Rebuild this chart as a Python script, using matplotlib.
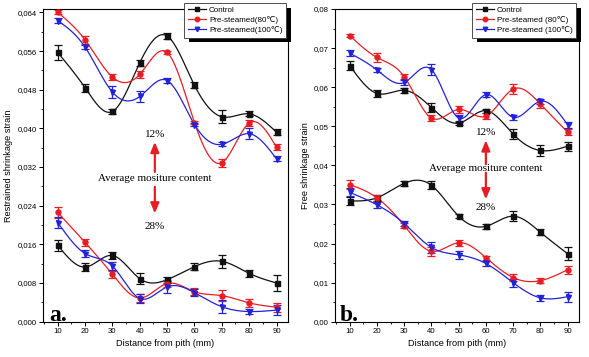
import numpy as np
import matplotlib
matplotlib.use("Agg")
import matplotlib.pyplot as plt
from matplotlib.patches import Rectangle
from matplotlib.ticker import FuncFormatter, MultipleLocator

# ---------------- data ----------------
distance = [10, 20, 30, 40, 50, 60, 70, 80, 90]

# panel a: restrained shrinkage strain, 12% moisture (upper) and 28% (lower)
a12_control = [0.0557, 0.0484, 0.0435, 0.0536, 0.0591, 0.0489, 0.0424, 0.0430, 0.0392]
a12_control_err = [0.0015, 0.0008, 0.0006, 0.0006, 0.0006, 0.0006, 0.0013, 0.0005, 0.0006]
a12_80 = [0.0640, 0.0583, 0.0506, 0.0512, 0.0557, 0.0412, 0.0329, 0.0411, 0.0361]
a12_80_err = [0.0004, 0.0009, 0.0006, 0.0007, 0.0004, 0.0003, 0.0008, 0.0007, 0.0006]
a12_100 = [0.0623, 0.0568, 0.0475, 0.0466, 0.0499, 0.0408, 0.0367, 0.0389, 0.0337]
a12_100_err = [0.0005, 0.0004, 0.0012, 0.0012, 0.0006, 0.0003, 0.0004, 0.0012, 0.0005]

a28_control = [0.0158, 0.0113, 0.0137, 0.0089, 0.0087, 0.0114, 0.0125, 0.0100, 0.0080]
a28_control_err = [0.0012, 0.0009, 0.0008, 0.0012, 0.0006, 0.0007, 0.0014, 0.0008, 0.0016]
a28_80 = [0.0226, 0.0164, 0.0098, 0.0049, 0.0079, 0.0062, 0.0054, 0.0039, 0.0030]
a28_80_err = [0.0012, 0.0007, 0.0007, 0.0008, 0.0007, 0.0007, 0.0011, 0.0008, 0.0009]
a28_100 = [0.0205, 0.0141, 0.0115, 0.0048, 0.0072, 0.0060, 0.0031, 0.0021, 0.0024]
a28_100_err = [0.0012, 0.0008, 0.0008, 0.0009, 0.0012, 0.0007, 0.0014, 0.0006, 0.0010]

# panel b: free shrinkage strain
b12_control = [0.0655, 0.0584, 0.0592, 0.0548, 0.0508, 0.0540, 0.0480, 0.0438, 0.0449]
b12_control_err = [0.0012, 0.0008, 0.0007, 0.0011, 0.0004, 0.0005, 0.0013, 0.0014, 0.0012]
b12_80 = [0.0732, 0.0676, 0.0627, 0.0521, 0.0543, 0.0526, 0.0595, 0.0557, 0.0485]
b12_80_err = [0.0004, 0.0011, 0.0007, 0.0008, 0.0009, 0.0007, 0.0012, 0.0010, 0.0008]
b12_100 = [0.0687, 0.0644, 0.0612, 0.0645, 0.0521, 0.0581, 0.0523, 0.0564, 0.0504]
b12_100_err = [0.0007, 0.0006, 0.0007, 0.0015, 0.0007, 0.0006, 0.0006, 0.0007, 0.0008]

b28_control = [0.0309, 0.0317, 0.0354, 0.0349, 0.0270, 0.0244, 0.0270, 0.0229, 0.0174]
b28_control_err = [0.0011, 0.0008, 0.0006, 0.0010, 0.0005, 0.0006, 0.0012, 0.0008, 0.0016]
b28_80 = [0.0351, 0.0317, 0.0246, 0.0180, 0.0202, 0.0164, 0.0113, 0.0105, 0.0133]
b28_80_err = [0.0012, 0.0007, 0.0007, 0.0011, 0.0008, 0.0005, 0.0010, 0.0006, 0.0010]
b28_100 = [0.0331, 0.0299, 0.0251, 0.0190, 0.0171, 0.0149, 0.0100, 0.0061, 0.0064]
b28_100_err = [0.0010, 0.0008, 0.0007, 0.0014, 0.0010, 0.0006, 0.0010, 0.0007, 0.0013]

labels_a = ["Control", "Pre-steamed(80\u2103)", "Pre-steamed(100\u2103)"]
labels_b = ["Control", "Pre-steamed (80\u2103)", "Pre-steamed (100\u2103)"]

# ---------------- style ----------------
C_BLACK = "#111111"
C_RED = "#e61e24"
C_BLUE = "#2222d8"
SANS = ["Liberation Sans", "DejaVu Sans"]
SERIF = ["Liberation Serif", "DejaVu Serif"]
plt.rcParams["font.family"] = SANS


def natural_spline(x, y, n=300):
    x = np.asarray(x, float)
    y = np.asarray(y, float)
    k = len(x)
    h = np.diff(x)
    A = np.zeros((k, k))
    r = np.zeros(k)
    A[0, 0] = A[-1, -1] = 1
    for i in range(1, k - 1):
        A[i, i - 1] = h[i - 1]
        A[i, i] = 2 * (h[i - 1] + h[i])
        A[i, i + 1] = h[i]
        r[i] = 6 * ((y[i + 1] - y[i]) / h[i] - (y[i] - y[i - 1]) / h[i - 1])
    M = np.linalg.solve(A, r)
    xs = np.linspace(x[0], x[-1], n)
    idx = np.clip(np.searchsorted(x, xs) - 1, 0, k - 2)
    x0, x1 = x[idx], x[idx + 1]
    hh = x1 - x0
    t0 = x1 - xs
    t1 = xs - x0
    ys = (M[idx] * t0 ** 3 / (6 * hh) + M[idx + 1] * t1 ** 3 / (6 * hh)
          + (y[idx] / hh - M[idx] * hh / 6) * t0
          + (y[idx + 1] / hh - M[idx + 1] * hh / 6) * t1)
    return xs, ys


def series(ax, y, err, color, marker, label=None):
    xs, ys = natural_spline(distance, y)
    ax.plot(xs, ys, color=color, lw=0.9, zorder=2)
    ax.errorbar(distance, y, yerr=err, fmt=marker, color=color, ms=3.6,
                elinewidth=0.9, capsize=2.6, capthick=0.9, zorder=3)
    if label is not None:
        ax.plot([], [], color=color, marker=marker, ms=3.2, lw=0.9, label=label)


def comma_fmt(decimals):
    return FuncFormatter(lambda v, p: f"{v:.{decimals}f}".replace(".", ","))


fig = plt.figure(figsize=(5.89, 3.57), dpi=100)
W, H = 589.0, 357.0
ax_a = fig.add_axes([43 / W, 1 - 321.7 / H, 245 / W, 312.7 / H])
ax_b = fig.add_axes([335 / W, 1 - 321.7 / H, 244 / W, 312.7 / H])

# panel a
series(ax_a, a12_control, a12_control_err, C_BLACK, "s", labels_a[0])
series(ax_a, a12_80, a12_80_err, C_RED, "o", labels_a[1])
series(ax_a, a12_100, a12_100_err, C_BLUE, "v", labels_a[2])
series(ax_a, a28_control, a28_control_err, C_BLACK, "s")
series(ax_a, a28_80, a28_80_err, C_RED, "o")
series(ax_a, a28_100, a28_100_err, C_BLUE, "v")

# panel b
series(ax_b, b12_control, b12_control_err, C_BLACK, "s", labels_b[0])
series(ax_b, b12_80, b12_80_err, C_RED, "o", labels_b[1])
series(ax_b, b12_100, b12_100_err, C_BLUE, "v", labels_b[2])
series(ax_b, b28_control, b28_control_err, C_BLACK, "s")
series(ax_b, b28_80, b28_80_err, C_RED, "o")
series(ax_b, b28_100, b28_100_err, C_BLUE, "v")

for ax, ylim, step, dec, ylabel in [
    (ax_a, (0, 0.0647), 0.008, 3, "Restrained shrinkage strain"),
    (ax_b, (0, 0.0800), 0.01, 2, "Free shrinkage strain"),
]:
    ax.set_xlim(4.6, 94.2)
    ax.set_ylim(*ylim)
    ax.xaxis.set_major_locator(MultipleLocator(10))
    ax.xaxis.set_minor_locator(MultipleLocator(5))
    ax.yaxis.set_major_locator(MultipleLocator(step))
    ax.yaxis.set_minor_locator(MultipleLocator(step / 2))
    ax.yaxis.set_major_formatter(comma_fmt(dec))
    ax.tick_params(which="major", direction="out", length=3, width=0.7, labelsize=5.6, pad=1.5)
    ax.tick_params(which="minor", direction="out", length=1.6, width=0.6)
    for s in ax.spines.values():
        s.set_linewidth(0.8)
    ax.set_xlabel("Distance from pith (mm)", fontsize=6.6, labelpad=3)
    ax.set_ylabel(ylabel, fontsize=6.6, labelpad=3)

# annotations
arrow = dict(arrowstyle="-|>,head_length=0.6,head_width=0.25", color=C_RED, lw=1.6,
             shrinkA=0, shrinkB=0)
for ax, xc, y12, up0, up1, yavg, dn0, dn1, y28 in [
    (ax_a, 45.5, 0.0387, 0.0310, 0.0372, 0.0296, 0.0279, 0.0224, 0.0196),
    (ax_b, 60.0, 0.0485, 0.0403, 0.0464, 0.0391, 0.0381, 0.0313, 0.0293),
]:
    ax.text(xc, y12, "12%", family=SERIF, fontsize=8, ha="center", va="center")
    ax.annotate("", xy=(xc, up1), xytext=(xc, up0), arrowprops=arrow)
    ax.text(xc, yavg, "Average mositure content", family=SERIF, fontsize=8,
            ha="center", va="center")
    ax.annotate("", xy=(xc, dn1), xytext=(xc, dn0), arrowprops=arrow)
    ax.text(xc, y28, "28%", family=SERIF, fontsize=8, ha="center", va="center")

ax_a.text(6.9, 0.0002, "a.", family=SERIF, fontsize=17, fontweight="bold",
          ha="left", va="baseline")
ax_b.text(6.5, 0.0002, "b.", family=SERIF, fontsize=17, fontweight="bold",
          ha="left", va="baseline")

# legends with black drop shadow
legs = []
for ax, corner in [(ax_a, (286 / W, 1 - 3 / H)), (ax_b, (576 / W, 1 - 3 / H))]:
    leg = ax.legend(loc="upper right", bbox_to_anchor=corner, bbox_transform=fig.transFigure,
                    fontsize=5.8, frameon=True, fancybox=False, framealpha=1,
                    edgecolor="#333333", borderpad=0.45, labelspacing=0.25,
                    handlelength=2.3, handletextpad=0.3, borderaxespad=0)
    leg.get_frame().set_linewidth(0.6)
    leg.set_zorder(10)
    legs.append((ax, leg))

fig.canvas.draw()
for ax, leg in legs:
    bb = leg.get_window_extent()
    off = 4.5
    rect = Rectangle((bb.x0 + off, bb.y0 - off), bb.width, bb.height,
                     transform=None, facecolor="black", edgecolor="none",
                     zorder=9, clip_on=False)
    ax.add_artist(rect)

fig.savefig("out.png", dpi=100)
